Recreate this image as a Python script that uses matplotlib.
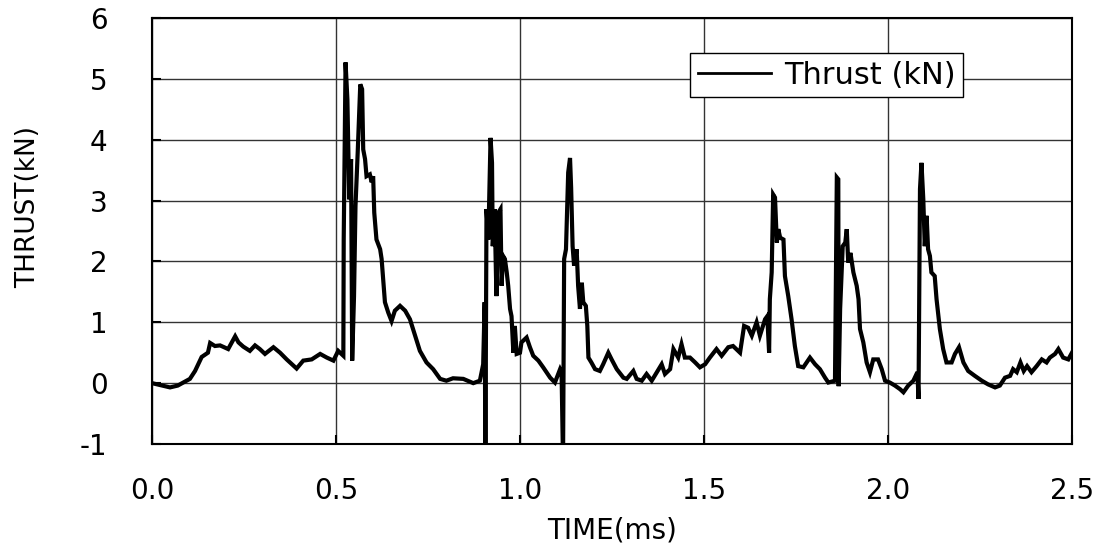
import numpy as np
import matplotlib
matplotlib.use('Agg')
import matplotlib.pyplot as plt

plt.rcParams['font.family'] = ['DejaVu Sans']
plt.rcParams['axes.unicode_minus'] = False

# (time in ms, thrust in kN)
time_ms = [0.0, 0.049, 0.07, 0.103, 0.117, 0.135, 0.152, 0.158, 0.171, 0.185, 0.207, 0.226, 0.235, 0.248,
           0.266, 0.28, 0.293, 0.307, 0.33, 0.348, 0.366, 0.393, 0.411, 0.434, 0.457, 0.475, 0.493, 0.506, 0.52,
           0.521, 0.526, 0.531, 0.536, 0.541, 0.544, 0.549, 0.553, 0.559, 0.566, 0.571, 0.574, 0.579, 0.583,
           0.592, 0.597, 0.601, 0.604, 0.61, 0.62, 0.624, 0.633, 0.642, 0.651, 0.66, 0.674, 0.688, 0.701, 0.715,
           0.728, 0.746, 0.764, 0.783, 0.8, 0.818, 0.846, 0.873, 0.891, 0.9,
           0.904, 0.906, 0.909, 0.914, 0.92, 0.924, 0.926, 0.931, 0.936, 0.941, 0.947, 0.95, 0.954, 0.959, 0.964,
           0.968, 0.973, 0.977, 0.982, 0.986, 0.991, 1.0, 1.004, 1.018, 1.027, 1.036, 1.05, 1.063, 1.082, 1.095,
           1.109, 1.113,
           1.117, 1.12, 1.125, 1.131, 1.136, 1.139, 1.143, 1.147, 1.154, 1.158, 1.163, 1.168, 1.172, 1.179, 1.183,
           1.186, 1.194, 1.204, 1.217, 1.226, 1.24, 1.249, 1.263, 1.281, 1.29, 1.308, 1.317, 1.331, 1.344, 1.358,
           1.372, 1.385, 1.394, 1.408, 1.417, 1.43, 1.439, 1.448, 1.462, 1.476, 1.489, 1.503, 1.516, 1.534, 1.548,
           1.566, 1.579, 1.598, 1.609, 1.62, 1.63, 1.643, 1.652, 1.666, 1.672, 1.677, 1.679, 1.684, 1.688, 1.693,
           1.698, 1.702, 1.707, 1.716, 1.72, 1.729, 1.738, 1.747, 1.756, 1.77, 1.788, 1.802, 1.815, 1.829, 1.838,
           1.856, 1.861, 1.865, 1.866, 1.87, 1.877, 1.884, 1.888, 1.892, 1.898, 1.906, 1.915, 1.92, 1.924, 1.933,
           1.942, 1.951, 1.96, 1.973, 1.983, 1.992, 2.005, 2.019, 2.033, 2.042, 2.055, 2.069, 2.08, 2.083, 2.085,
           2.087, 2.091, 2.096, 2.1, 2.105, 2.109, 2.114, 2.118, 2.127, 2.132, 2.141, 2.15, 2.159, 2.173, 2.182,
           2.193, 2.205, 2.218, 2.236, 2.255, 2.272, 2.291, 2.304, 2.318, 2.332, 2.34, 2.35, 2.36, 2.369, 2.378,
           2.39, 2.404, 2.418, 2.431, 2.44, 2.454, 2.463, 2.476, 2.49, 2.5]
thrust_kn = [0.0, -0.07, -0.04, 0.07, 0.2, 0.43, 0.5, 0.66, 0.61, 0.62, 0.56, 0.77, 0.67, 0.6,
             0.53, 0.62, 0.56, 0.48, 0.59, 0.5, 0.39, 0.24, 0.37, 0.39, 0.48, 0.42, 0.37, 0.53, 0.45,
             2.36, 5.27, 4.66, 3.02, 3.68, 0.37, 1.43, 2.91, 3.79, 4.91, 4.83, 3.84, 3.68, 3.4,
             3.43, 3.3, 3.4, 2.8, 2.36, 2.2, 2.04, 1.33, 1.16, 1.02, 1.19, 1.27, 1.19, 1.05, 0.78,
             0.53, 0.34, 0.23, 0.07, 0.04, 0.08, 0.07, 0.0, 0.04, 0.31,
             1.33, -1.3, 2.86, 2.36, 4.03, 3.62, 2.25, 2.86, 1.43, 2.8, 2.86, 1.6, 2.09, 2.04, 1.82,
             1.6, 1.22, 1.1, 0.5, 0.94, 0.48, 0.5, 0.67, 0.75, 0.59, 0.45, 0.37, 0.26, 0.09, 0.01,
             0.23, 0.18,
             -1.3, 2.04, 2.2, 3.46, 3.7, 3.21, 2.25, 1.93, 2.2, 1.6, 1.22, 1.65, 1.33, 1.27, 0.94,
             0.42, 0.34, 0.23, 0.2, 0.31, 0.5, 0.39, 0.23, 0.09, 0.07, 0.2, 0.07, 0.04, 0.15, 0.04,
             0.18, 0.31, 0.15, 0.23, 0.56, 0.42, 0.64, 0.42, 0.42, 0.34, 0.26, 0.31, 0.42, 0.56, 0.45,
             0.59, 0.61, 0.5, 0.94, 0.91, 0.78, 1.0, 0.78, 1.05, 1.1, 0.5, 1.38, 1.82, 3.1, 3.05,
             2.31, 2.53, 2.39, 2.36, 1.76, 1.43, 1.05, 0.61, 0.28, 0.26, 0.42, 0.31, 0.23, 0.09, 0.01,
             0.04, 3.38, 3.35, -0.05, 1.22, 2.25, 2.31, 2.53, 1.98, 2.14, 1.82, 1.6, 1.38, 0.89, 0.67,
             0.34, 0.18, 0.39, 0.39, 0.23, 0.04, 0.01, -0.04, -0.1, -0.15, -0.04, 0.04, 0.18, -0.26, 1.54,
             3.19, 3.62, 3.02, 2.25, 2.75, 2.2, 2.09, 1.82, 1.76, 1.38, 0.89, 0.56, 0.34, 0.34, 0.48,
             0.59, 0.34, 0.2, 0.12, 0.04, -0.02, -0.07, -0.04, 0.09, 0.12, 0.23, 0.18, 0.34, 0.2, 0.28,
             0.18, 0.28, 0.39, 0.34, 0.42, 0.48, 0.56, 0.42, 0.39, 0.5]

x_ticks = [0.0, 0.5, 1.0, 1.5, 2.0, 2.5]
y_ticks = [-1, 0, 1, 2, 3, 4, 5, 6]

fig = plt.figure(figsize=(10.99, 5.53), dpi=100)
ax = fig.add_axes([0.1383, 0.1971, 0.8371, 0.7704])

ax.plot(time_ms, thrust_kn, color='black', lw=3.0, label='Thrust (kN)', solid_joinstyle='miter')

ax.set_xlim(0, 2.5)
ax.set_ylim(-1, 6)
ax.set_xticks(x_ticks)
ax.set_xticklabels(['%.1f' % t for t in x_ticks])
ax.set_yticks(y_ticks)
ax.set_yticklabels([str(v) for v in y_ticks])
ax.grid(True, color='#333333', lw=1.0)
ax.set_axisbelow(True)
for s in ax.spines.values():
    s.set_linewidth(1.5)
    s.set_color('black')

ax.tick_params(axis='x', direction='in', length=6.5, width=1.5, pad=24, labelsize=20)
ax.tick_params(axis='y', direction='in', length=6.5, width=1.5, pad=32, labelsize=20)

ax.set_xlabel('TIME(ms)', fontsize=20, labelpad=8)
ax.set_ylabel('THRUST(kN)', fontsize=19)
ax.yaxis.set_label_coords(-0.12, 0.556)

leg = ax.legend(loc='upper right', bbox_to_anchor=(0.8815, 0.918), fontsize=22, fancybox=False,
                framealpha=1, edgecolor='black', handlelength=2.4, borderpad=0.25,
                handletextpad=0.4, borderaxespad=0)
leg.get_frame().set_linewidth(1.0)
for line in leg.get_lines():
    line.set_linewidth(2.0)

fig.savefig('out.png', dpi=100)
